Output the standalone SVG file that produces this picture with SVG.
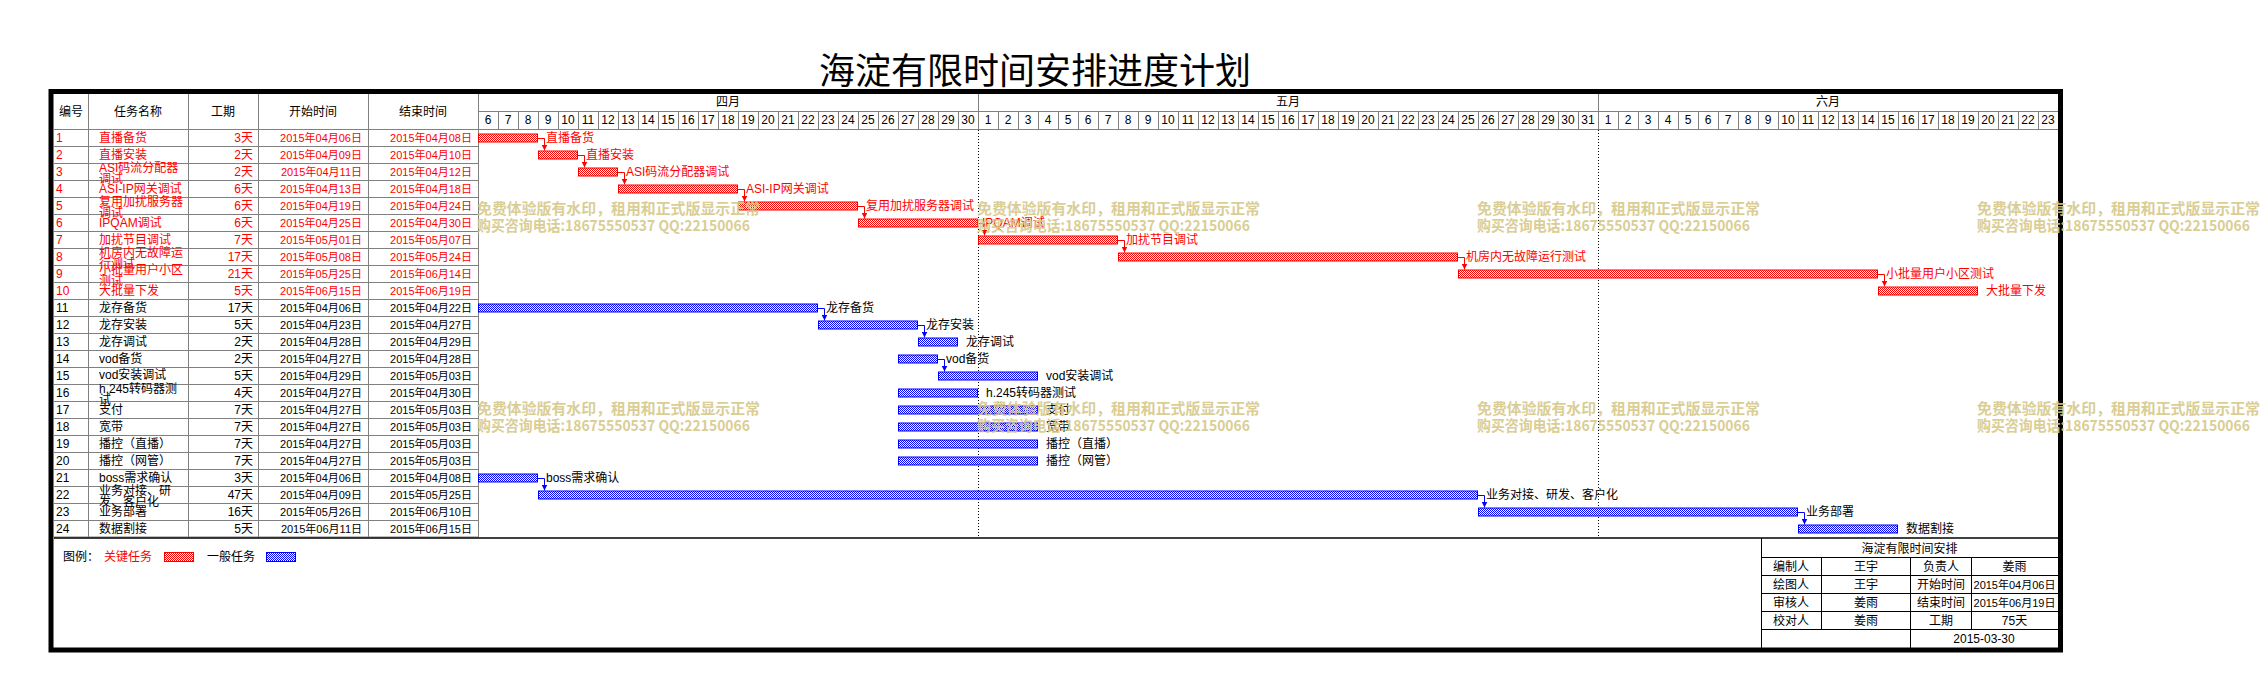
<svg xmlns="http://www.w3.org/2000/svg" width="2261" height="699" viewBox="0 0 2261 699">
<style>
text{font-family:"Liberation Sans","Noto Sans CJK SC",sans-serif;font-size:12px;fill:#000}
.r text,text.r{fill:#f00}
.c{text-anchor:middle}
.e{text-anchor:end}
.d{font-size:11px}
.g{stroke:#808080;stroke-width:1;fill:none}
.k{stroke:#000;stroke-width:1;fill:none}
.rb{fill:url(#pr);stroke:#f00;stroke-width:1}
.bb{fill:url(#pb);stroke:#00f;stroke-width:1}
.cr{stroke:#f00;stroke-width:1;fill:none;marker-end:url(#ar)}
.cb{stroke:#00f;stroke-width:1;fill:none;marker-end:url(#ab)}
.wm{font-size:15px;font-weight:bold;fill:#D6C98A;font-family:"Noto Sans CJK SC","Liberation Sans",sans-serif}
.title{font-size:36px;font-family:"Noto Sans CJK SC",sans-serif;text-anchor:middle}
</style>
<defs>
<pattern id="pr" width="2" height="2" patternUnits="userSpaceOnUse"><rect width="2" height="2" fill="#fff"/><rect width="1" height="1" fill="#f00"/><rect x="1" y="1" width="1" height="1" fill="#f00"/></pattern>
<pattern id="pb" width="2" height="2" patternUnits="userSpaceOnUse"><rect width="2" height="2" fill="#fff"/><rect width="1" height="1" fill="#00f"/><rect x="1" y="1" width="1" height="1" fill="#00f"/></pattern>
<pattern id="dg" x="478" y="111" width="20" height="18" patternUnits="userSpaceOnUse"><rect width="1" height="18" fill="#808080"/></pattern>
<marker id="ar" markerUnits="userSpaceOnUse" markerWidth="7" markerHeight="6" refX="6" refY="3" orient="auto"><path d="M0,0 L6,3 L0,6 z" fill="#f00"/></marker>
<marker id="ab" markerUnits="userSpaceOnUse" markerWidth="7" markerHeight="6" refX="6" refY="3" orient="auto"><path d="M0,0 L6,3 L0,6 z" fill="#00f"/></marker>
</defs>
<rect width="2261" height="699" fill="#fff"/>
<text class="title" x="1035" y="84">海淀有限时间安排进度计划</text>

<g id="grid">
<path class="g" d="M54,129.5H2058 M54,146.5H478 M54,163.5H478 M54,180.5H478 M54,197.5H478 M54,214.5H478 M54,231.5H478 M54,248.5H478 M54,265.5H478 M54,282.5H478 M54,299.5H478 M54,316.5H478 M54,333.5H478 M54,350.5H478 M54,367.5H478 M54,384.5H478 M54,401.5H478 M54,418.5H478 M54,435.5H478 M54,452.5H478 M54,469.5H478 M54,486.5H478 M54,503.5H478 M54,520.5H478 M54,537H478 M478,111.5H2058"/>
<path class="g" d="M88.5,94V537 M188.5,94V537 M258.5,94V537 M368.5,94V537 M478.5,94V537 M978.5,94V129 M1598.5,94V129"/>
<rect x="478" y="111" width="1580" height="18" fill="url(#dg)"/>
<path d="M978.5,130V537 M1598.5,130V537" stroke="#000" stroke-width="1" stroke-dasharray="1 2" fill="none"/>
<path d="M54,538H2058" stroke="#000" stroke-width="1.5"/>
</g>

<g id="header">
<text class="c" x="71" y="116">编号</text>
<text class="c" x="138" y="116">任务名称</text>
<text class="c" x="223" y="116">工期</text>
<text class="c" x="313" y="116">开始时间</text>
<text class="c" x="423" y="116">结束时间</text>
<text class="c" x="728" y="106">四月</text>
<text class="c" x="1288" y="106">五月</text>
<text class="c" x="1828" y="106">六月</text>
<g class="c">
<text class="c" x="488" y="124">6</text><text class="c" x="508" y="124">7</text><text class="c" x="528" y="124">8</text><text class="c" x="548" y="124">9</text><text class="c" x="568" y="124">10</text><text class="c" x="588" y="124">11</text><text class="c" x="608" y="124">12</text><text class="c" x="628" y="124">13</text><text class="c" x="648" y="124">14</text><text class="c" x="668" y="124">15</text><text class="c" x="688" y="124">16</text><text class="c" x="708" y="124">17</text><text class="c" x="728" y="124">18</text><text class="c" x="748" y="124">19</text><text class="c" x="768" y="124">20</text><text class="c" x="788" y="124">21</text><text class="c" x="808" y="124">22</text><text class="c" x="828" y="124">23</text><text class="c" x="848" y="124">24</text><text class="c" x="868" y="124">25</text><text class="c" x="888" y="124">26</text><text class="c" x="908" y="124">27</text><text class="c" x="928" y="124">28</text><text class="c" x="948" y="124">29</text><text class="c" x="968" y="124">30</text>
<text class="c" x="988" y="124">1</text><text class="c" x="1008" y="124">2</text><text class="c" x="1028" y="124">3</text><text class="c" x="1048" y="124">4</text><text class="c" x="1068" y="124">5</text><text class="c" x="1088" y="124">6</text><text class="c" x="1108" y="124">7</text><text class="c" x="1128" y="124">8</text><text class="c" x="1148" y="124">9</text><text class="c" x="1168" y="124">10</text><text class="c" x="1188" y="124">11</text><text class="c" x="1208" y="124">12</text><text class="c" x="1228" y="124">13</text><text class="c" x="1248" y="124">14</text><text class="c" x="1268" y="124">15</text><text class="c" x="1288" y="124">16</text><text class="c" x="1308" y="124">17</text><text class="c" x="1328" y="124">18</text><text class="c" x="1348" y="124">19</text><text class="c" x="1368" y="124">20</text><text class="c" x="1388" y="124">21</text><text class="c" x="1408" y="124">22</text><text class="c" x="1428" y="124">23</text><text class="c" x="1448" y="124">24</text><text class="c" x="1468" y="124">25</text><text class="c" x="1488" y="124">26</text><text class="c" x="1508" y="124">27</text><text class="c" x="1528" y="124">28</text><text class="c" x="1548" y="124">29</text><text class="c" x="1568" y="124">30</text><text class="c" x="1588" y="124">31</text>
<text class="c" x="1608" y="124">1</text><text class="c" x="1628" y="124">2</text><text class="c" x="1648" y="124">3</text><text class="c" x="1668" y="124">4</text><text class="c" x="1688" y="124">5</text><text class="c" x="1708" y="124">6</text><text class="c" x="1728" y="124">7</text><text class="c" x="1748" y="124">8</text><text class="c" x="1768" y="124">9</text><text class="c" x="1788" y="124">10</text><text class="c" x="1808" y="124">11</text><text class="c" x="1828" y="124">12</text><text class="c" x="1848" y="124">13</text><text class="c" x="1868" y="124">14</text><text class="c" x="1888" y="124">15</text><text class="c" x="1908" y="124">16</text><text class="c" x="1928" y="124">17</text><text class="c" x="1948" y="124">18</text><text class="c" x="1968" y="124">19</text><text class="c" x="1988" y="124">20</text><text class="c" x="2008" y="124">21</text><text class="c" x="2028" y="124">22</text><text class="c" x="2048" y="124">23</text>
</g>
</g>

<g id="task1" class="r"><text x="56" y="142">1</text><text x="99" y="142">直播备货</text><text class="e" x="253" y="142">3天</text><text class="e d" x="362" y="142">2015年04月06日</text><text class="e d" x="472" y="142">2015年04月08日</text><rect class="rb" x="478.5" y="134" width="59" height="8"/><text x="546" y="142">直播备货</text></g>
<g id="task2" class="r"><text x="56" y="159">2</text><text x="99" y="159">直播安装</text><text class="e" x="253" y="159">2天</text><text class="e d" x="362" y="159">2015年04月09日</text><text class="e d" x="472" y="159">2015年04月10日</text><rect class="rb" x="538.5" y="151" width="39" height="8"/><text x="586" y="159">直播安装</text></g>
<g id="task3" class="r"><text x="56" y="176">3</text><text x="99" y="172">ASI码流分配器</text><text x="99" y="183">调试</text><text class="e" x="253" y="176">2天</text><text class="e d" x="362" y="176">2015年04月11日</text><text class="e d" x="472" y="176">2015年04月12日</text><rect class="rb" x="578.5" y="168" width="39" height="8"/><text x="626" y="176">ASI码流分配器调试</text></g>
<g id="task4" class="r"><text x="56" y="193">4</text><text x="99" y="193">ASI-IP网关调试</text><text class="e" x="253" y="193">6天</text><text class="e d" x="362" y="193">2015年04月13日</text><text class="e d" x="472" y="193">2015年04月18日</text><rect class="rb" x="618.5" y="185" width="119" height="8"/><text x="746" y="193">ASI-IP网关调试</text></g>
<g id="task5" class="r"><text x="56" y="210">5</text><text x="99" y="206">复用加扰服务器</text><text x="99" y="217">调试</text><text class="e" x="253" y="210">6天</text><text class="e d" x="362" y="210">2015年04月19日</text><text class="e d" x="472" y="210">2015年04月24日</text><rect class="rb" x="738.5" y="202" width="119" height="8"/><text x="866" y="210">复用加扰服务器调试</text></g>
<g id="task6" class="r"><text x="56" y="227">6</text><text x="99" y="227">IPQAM调试</text><text class="e" x="253" y="227">6天</text><text class="e d" x="362" y="227">2015年04月25日</text><text class="e d" x="472" y="227">2015年04月30日</text><rect class="rb" x="858.5" y="219" width="119" height="8"/><text x="982" y="227">IPQAM调试</text></g>
<g id="task7" class="r"><text x="56" y="244">7</text><text x="99" y="244">加扰节目调试</text><text class="e" x="253" y="244">7天</text><text class="e d" x="362" y="244">2015年05月01日</text><text class="e d" x="472" y="244">2015年05月07日</text><rect class="rb" x="978.5" y="236" width="139" height="8"/><text x="1126" y="244">加扰节目调试</text></g>
<g id="task8" class="r"><text x="56" y="261">8</text><text x="99" y="257">机房内无故障运</text><text x="99" y="268">行测试</text><text class="e" x="253" y="261">17天</text><text class="e d" x="362" y="261">2015年05月08日</text><text class="e d" x="472" y="261">2015年05月24日</text><rect class="rb" x="1118.5" y="253" width="339" height="8"/><text x="1466" y="261">机房内无故障运行测试</text></g>
<g id="task9" class="r"><text x="56" y="278">9</text><text x="99" y="274">小批量用户小区</text><text x="99" y="285">测试</text><text class="e" x="253" y="278">21天</text><text class="e d" x="362" y="278">2015年05月25日</text><text class="e d" x="472" y="278">2015年06月14日</text><rect class="rb" x="1458.5" y="270" width="419" height="8"/><text x="1886" y="278">小批量用户小区测试</text></g>
<g id="task10" class="r"><text x="56" y="295">10</text><text x="99" y="295">大批量下发</text><text class="e" x="253" y="295">5天</text><text class="e d" x="362" y="295">2015年06月15日</text><text class="e d" x="472" y="295">2015年06月19日</text><rect class="rb" x="1878.5" y="287" width="99" height="8"/><text x="1986" y="295">大批量下发</text></g>

<g id="task11"><text x="56" y="312">11</text><text x="99" y="312">龙存备货</text><text class="e" x="253" y="312">17天</text><text class="e d" x="362" y="312">2015年04月06日</text><text class="e d" x="472" y="312">2015年04月22日</text><rect class="bb" x="478.5" y="304" width="339" height="8"/><text x="826" y="312">龙存备货</text></g>
<g id="task12"><text x="56" y="329">12</text><text x="99" y="329">龙存安装</text><text class="e" x="253" y="329">5天</text><text class="e d" x="362" y="329">2015年04月23日</text><text class="e d" x="472" y="329">2015年04月27日</text><rect class="bb" x="818.5" y="321" width="99" height="8"/><text x="926" y="329">龙存安装</text></g>
<g id="task13"><text x="56" y="346">13</text><text x="99" y="346">龙存调试</text><text class="e" x="253" y="346">2天</text><text class="e d" x="362" y="346">2015年04月28日</text><text class="e d" x="472" y="346">2015年04月29日</text><rect class="bb" x="918.5" y="338" width="39" height="8"/><text x="966" y="346">龙存调试</text></g>
<g id="task14"><text x="56" y="363">14</text><text x="99" y="363">vod备货</text><text class="e" x="253" y="363">2天</text><text class="e d" x="362" y="363">2015年04月27日</text><text class="e d" x="472" y="363">2015年04月28日</text><rect class="bb" x="898.5" y="355" width="39" height="8"/><text x="946" y="363">vod备货</text></g>
<g id="task15"><text x="56" y="380">15</text><text x="99" y="379">vod安装调试</text><text class="e" x="253" y="380">5天</text><text class="e d" x="362" y="380">2015年04月29日</text><text class="e d" x="472" y="380">2015年05月03日</text><rect class="bb" x="938.5" y="372" width="99" height="8"/><text x="1046" y="380">vod安装调试</text></g>
<g id="task16"><text x="56" y="397">16</text><text x="99" y="393">h.245转码器测</text><text x="99" y="404">试</text><text class="e" x="253" y="397">4天</text><text class="e d" x="362" y="397">2015年04月27日</text><text class="e d" x="472" y="397">2015年04月30日</text><rect class="bb" x="898.5" y="389" width="79" height="8"/><text x="986" y="397">h.245转码器测试</text></g>
<g id="task17"><text x="56" y="414">17</text><text x="99" y="414">支付</text><text class="e" x="253" y="414">7天</text><text class="e d" x="362" y="414">2015年04月27日</text><text class="e d" x="472" y="414">2015年05月03日</text><rect class="bb" x="898.5" y="406" width="139" height="8"/><text x="1046" y="414">支付</text></g>
<g id="task18"><text x="56" y="431">18</text><text x="99" y="431">宽带</text><text class="e" x="253" y="431">7天</text><text class="e d" x="362" y="431">2015年04月27日</text><text class="e d" x="472" y="431">2015年05月03日</text><rect class="bb" x="898.5" y="423" width="139" height="8"/><text x="1046" y="431">宽带</text></g>
<g id="task19"><text x="56" y="448">19</text><text x="99" y="448">播控（直播）</text><text class="e" x="253" y="448">7天</text><text class="e d" x="362" y="448">2015年04月27日</text><text class="e d" x="472" y="448">2015年05月03日</text><rect class="bb" x="898.5" y="440" width="139" height="8"/><text x="1046" y="448">播控（直播）</text></g>
<g id="task20"><text x="56" y="465">20</text><text x="99" y="465">播控（网管）</text><text class="e" x="253" y="465">7天</text><text class="e d" x="362" y="465">2015年04月27日</text><text class="e d" x="472" y="465">2015年05月03日</text><rect class="bb" x="898.5" y="457" width="139" height="8"/><text x="1046" y="465">播控（网管）</text></g>
<g id="task21"><text x="56" y="482">21</text><text x="99" y="482">boss需求确认</text><text class="e" x="253" y="482">3天</text><text class="e d" x="362" y="482">2015年04月06日</text><text class="e d" x="472" y="482">2015年04月08日</text><rect class="bb" x="478.5" y="474" width="59" height="8"/><text x="546" y="482">boss需求确认</text></g>
<g id="task22"><text x="56" y="499">22</text><text x="99" y="495">业务对接、研</text><text x="99" y="506">发、客户化</text><text class="e" x="253" y="499">47天</text><text class="e d" x="362" y="499">2015年04月09日</text><text class="e d" x="472" y="499">2015年05月25日</text><rect class="bb" x="538.5" y="491" width="939" height="8"/><text x="1486" y="499">业务对接、研发、客户化</text></g>
<g id="task23"><text x="56" y="516">23</text><text x="99" y="516">业务部署</text><text class="e" x="253" y="516">16天</text><text class="e d" x="362" y="516">2015年05月26日</text><text class="e d" x="472" y="516">2015年06月10日</text><rect class="bb" x="1478.5" y="508" width="319" height="8"/><text x="1806" y="516">业务部署</text></g>
<g id="task24"><text x="56" y="533">24</text><text x="99" y="533">数据割接</text><text class="e" x="253" y="533">5天</text><text class="e d" x="362" y="533">2015年06月11日</text><text class="e d" x="472" y="533">2015年06月15日</text><rect class="bb" x="1798.5" y="525" width="99" height="8"/><text x="1906" y="533">数据割接</text></g>

<g id="connectors">
<path class="cr" d="M538,138.5H544.5V150.5"/>
<path class="cr" d="M578,155.5H584.5V167.5"/>
<path class="cr" d="M618,172.5H624.5V184.5"/>
<path class="cr" d="M738,189.5H744.5V201.5"/>
<path class="cr" d="M858,206.5H864.5V218.5"/>
<path class="cr" d="M978,223.5H984.5V235.5"/>
<path class="cr" d="M1118,240.5H1124.5V252.5"/>
<path class="cr" d="M1458,257.5H1464.5V269.5"/>
<path class="cr" d="M1878,274.5H1884.5V286.5"/>
<path class="cb" d="M818,308.5H824.5V320.5"/>
<path class="cb" d="M918,325.5H924.5V337.5"/>
<path class="cb" d="M938,359.5H944.5V371.5"/>
<path class="cb" d="M538,478.5H544.5V490.5"/>
<path class="cb" d="M1478,495.5H1484.5V507.5"/>
<path class="cb" d="M1798,512.5H1804.5V524.5"/>
</g>

<g id="legend">
<text x="63" y="561">图例：</text>
<text class="r" x="104" y="561">关键任务</text>
<rect class="rb" x="164.5" y="552.5" width="29" height="9"/>
<text x="207" y="561">一般任务</text>
<rect class="bb" x="266.5" y="552.5" width="29" height="9"/>
</g>

<g id="titleblock">
<path class="k" d="M1761,557.5H2058 M1761,575.5H2058 M1761,593.5H2058 M1761,611.5H2058 M1761,629.5H2058 M1761.5,538V648 M1821.5,557.5V629.5 M1910.5,557.5V648 M1971.5,557.5V629.5"/>
<text class="c" x="1909.5" y="553">海淀有限时间安排</text>
<text class="c" x="1791" y="571">编制人</text><text class="c" x="1866" y="571">王宇</text><text class="c" x="1941" y="571">负责人</text><text class="c" x="2014.5" y="571">姜雨</text>
<text class="c" x="1791" y="589">绘图人</text><text class="c" x="1866" y="589">王宇</text><text class="c" x="1941" y="589">开始时间</text><text class="c d" x="2014.5" y="589">2015年04月06日</text>
<text class="c" x="1791" y="607">审核人</text><text class="c" x="1866" y="607">姜雨</text><text class="c" x="1941" y="607">结束时间</text><text class="c d" x="2014.5" y="607">2015年06月19日</text>
<text class="c" x="1791" y="625">校对人</text><text class="c" x="1866" y="625">姜雨</text><text class="c" x="1941" y="625">工期</text><text class="c" x="2014.5" y="625">75天</text>
<text class="c" x="1984" y="643">2015-03-30</text>
</g>

<rect id="frame" x="51" y="91.5" width="2009.5" height="558.5" fill="none" stroke="#000" stroke-width="5"/>

<g id="watermarks" opacity="0.9">
<text class="wm" x="477" y="214" textLength="283" lengthAdjust="spacingAndGlyphs">免费体验版有水印，租用和正式版显示正常</text>
<text class="wm" x="477" y="231" textLength="273" lengthAdjust="spacingAndGlyphs">购买咨询电话:18675550537 QQ:22150066</text>
<text class="wm" x="977" y="214" textLength="283" lengthAdjust="spacingAndGlyphs">免费体验版有水印，租用和正式版显示正常</text>
<text class="wm" x="977" y="231" textLength="273" lengthAdjust="spacingAndGlyphs">购买咨询电话:18675550537 QQ:22150066</text>
<text class="wm" x="1477" y="214" textLength="283" lengthAdjust="spacingAndGlyphs">免费体验版有水印，租用和正式版显示正常</text>
<text class="wm" x="1477" y="231" textLength="273" lengthAdjust="spacingAndGlyphs">购买咨询电话:18675550537 QQ:22150066</text>
<text class="wm" x="1977" y="214" textLength="283" lengthAdjust="spacingAndGlyphs">免费体验版有水印，租用和正式版显示正常</text>
<text class="wm" x="1977" y="231" textLength="273" lengthAdjust="spacingAndGlyphs">购买咨询电话:18675550537 QQ:22150066</text>
<text class="wm" x="477" y="414" textLength="283" lengthAdjust="spacingAndGlyphs">免费体验版有水印，租用和正式版显示正常</text>
<text class="wm" x="477" y="431" textLength="273" lengthAdjust="spacingAndGlyphs">购买咨询电话:18675550537 QQ:22150066</text>
<text class="wm" x="977" y="414" textLength="283" lengthAdjust="spacingAndGlyphs">免费体验版有水印，租用和正式版显示正常</text>
<text class="wm" x="977" y="431" textLength="273" lengthAdjust="spacingAndGlyphs">购买咨询电话:18675550537 QQ:22150066</text>
<text class="wm" x="1477" y="414" textLength="283" lengthAdjust="spacingAndGlyphs">免费体验版有水印，租用和正式版显示正常</text>
<text class="wm" x="1477" y="431" textLength="273" lengthAdjust="spacingAndGlyphs">购买咨询电话:18675550537 QQ:22150066</text>
<text class="wm" x="1977" y="414" textLength="283" lengthAdjust="spacingAndGlyphs">免费体验版有水印，租用和正式版显示正常</text>
<text class="wm" x="1977" y="431" textLength="273" lengthAdjust="spacingAndGlyphs">购买咨询电话:18675550537 QQ:22150066</text>
</g>
</svg>
